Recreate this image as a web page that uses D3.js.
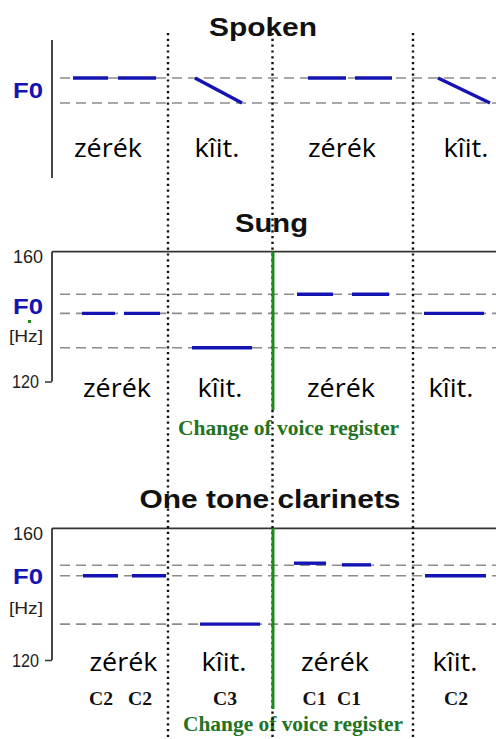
<!DOCTYPE html>
<html><head><meta charset="utf-8">
<script src="https://cdn.jsdelivr.net/npm/d3@7"></script>
<style>body{margin:0;background:#fff}svg{display:block}</style>
</head><body><svg id="c" width="496" height="739"></svg>
<script>
// ---------- DATA ----------
const panelTitles = ["Spoken", "Sung", "One tone clarinets"];
const words = ["zérék", "kîit.", "zérék", "kîit."];
const yTickValues = [120, 160];
// word boundaries (time units) and voice-register change
const dividers = [1.16, 2.205, 3.61];
const registerChange = 2.21;
// spoken: relative levels (1 = high, 0 = low)
const spokenGuides = [1, 0];
const spokenSegments = [
  [0.21, 0.56, 1, 1], [0.66, 1.04, 1, 1], [1.43, 1.90, 1, 0],
  [2.56, 2.94, 1, 1], [3.03, 3.40, 1, 1], [3.86, 4.38, 1, 0]
];
const spokenWordPos = [0.56, 1.65, 2.90, 4.14];
// sung: F0 in Hz
const sungGuides = [146.9, 141.0, 130.4];
const sungSegments = [
  [0.30, 0.63, 141.0, 141.0], [0.72, 1.08, 141.0, 141.0], [1.40, 2.00, 130.4, 130.4],
  [2.45, 2.81, 146.9, 146.9], [3.00, 3.37, 146.9, 146.9], [3.72, 4.32, 141.0, 141.0]
];
const sungWordPos = [0.65, 1.68, 2.89, 3.99];
// one tone clarinets: F0 in Hz
const clarGuides = [148.8, 145.6, 130.9];
const clarSegments = [
  [0.31, 0.66, 145.6, 145.6], [0.80, 1.14, 145.6, 145.6], [1.48, 2.08, 130.9, 130.9],
  [2.42, 2.74, 149.4, 149.4], [2.90, 3.19, 148.9, 148.9], [3.73, 4.34, 145.6, 145.6]
];
const clarWordPos = [0.715, 1.72, 2.83, 4.03];
const clarNotes = ["C2", "C2", "C3", "C1", "C1", "C2"];
const clarNotePos = [0.49, 0.88, 1.73, 2.625, 2.97, 4.04];
const registerLabel = "Change of voice register";

// ---------- DRAW ----------
const svg = d3.select("#c");
const x = d3.scaleLinear().domain([0, 4.44]).range([52, 496]);
const BLUE = "#1414b4", GREY = "#8c8c8c", GREEN = "#1d8a1d", GTEXT = "#237323";
const sans = "'Liberation Sans', Arial, sans-serif";
const wordFont = "'Open Sans', 'Noto Sans', sans-serif";
const serif = "'Liberation Serif', 'Times New Roman', serif";

function txt(g, s, px, py, o) {
  const t = g.append("text").attr("x", px).attr("y", py).text(s)
    .attr("text-anchor", o.anchor || "middle")
    .attr("font-family", o.family).attr("font-size", o.size)
    .attr("font-weight", o.weight || "normal").attr("fill", o.fill || "#111");
  if (o.len) t.attr("textLength", o.len).attr("lengthAdjust", "spacingAndGlyphs");
  if (o.mid) t.attr("dominant-baseline", "central");
  return t;
}

function drawGuides(g, y, guides) {
  g.selectAll(null).data(guides).join("line")
    .attr("x1", 60).attr("x2", 496)
    .attr("y1", d => y(d)).attr("y2", d => y(d))
    .attr("stroke", GREY).attr("stroke-width", 1.6).attr("stroke-dasharray", "10,6");
}
function drawSegments(g, y, segs, w) {
  g.selectAll(null).data(segs).join("line")
    .attr("x1", d => x(d[0])).attr("x2", d => x(d[1]))
    .attr("y1", d => y(d[2])).attr("y2", d => y(d[3]))
    .attr("stroke", BLUE).attr("stroke-width", w).attr("stroke-linecap", "butt");
}
function drawWords(g, pos, base) {
  words.forEach((wd, i) => txt(g, wd, x(pos[i]), base,
    {family: wordFont, size: 25, weight: 500, fill: "#000", len: i % 2 === 0 ? 68 : 45}));
}
function drawHzAxis(g, y, top, bottom) {
  g.append("line").attr("x1", 52).attr("x2", 496).attr("y1", top).attr("y2", top)
    .attr("stroke", "#333").attr("stroke-width", 1.8);
  g.append("line").attr("x1", 52).attr("x2", 52).attr("y1", top).attr("y2", bottom)
    .attr("stroke", "#333").attr("stroke-width", 1.8);
  const ax = g.append("g").attr("transform", "translate(52,0)")
    .call(d3.axisLeft(y).tickValues(yTickValues).tickSize(7).tickSizeOuter(0).tickFormat(d3.format("d")));
  ax.select(".domain").remove();
  ax.selectAll(".tick line").attr("stroke", "#333").attr("stroke-width", 1.5)
    .filter(d => d === 160).remove();
  ax.selectAll(".tick text").attr("font-family", sans).attr("font-size", 18).attr("fill", "#222")
    .attr("textLength", d => d === 160 ? 30 : 27).attr("lengthAdjust", "spacingAndGlyphs")
    .attr("x", d => d === 160 ? -9 : -13).attr("dy", d => d === 160 ? "0.6em" : "0.34em");
}

// Panel 1 : Spoken
const g1 = svg.append("g");
txt(g1, panelTitles[0], 263, 36, {family: sans, size: 25, weight: "bold", len: 108});
g1.append("line").attr("x1", 52).attr("x2", 52).attr("y1", 40).attr("y2", 178)
  .attr("stroke", "#333").attr("stroke-width", 1.8);
const y1 = d3.scaleLinear().domain([0, 1]).range([103, 78]);
txt(g1, "F0", 28, 90, {family: sans, size: 22, weight: "bold", fill: BLUE, len: 30, mid: true});
drawGuides(g1, y1, spokenGuides);
drawSegments(g1, y1, spokenSegments, 3.6);
drawWords(g1, spokenWordPos, 157);

// Panel 2 : Sung
const g2 = svg.append("g");
txt(g2, panelTitles[1], 271.5, 232, {family: sans, size: 25, weight: "bold", len: 73});
const y2 = d3.scaleLinear().domain([120, 160]).range([381.5, 251.7]);
drawHzAxis(g2, y2, 251.7, 381.5);
txt(g2, "F0", 28, 306.7, {family: sans, size: 22, weight: "bold", fill: BLUE, len: 30, mid: true});
g2.append("rect").attr("x", 28).attr("y", 320).attr("width", 3).attr("height", 3).attr("fill", GREEN);
txt(g2, "[Hz]", 26, 336.7, {family: sans, size: 17, fill: "#222", len: 34, mid: true});
drawGuides(g2, y2, sungGuides);
drawSegments(g2, y2, sungSegments, 3.4);
drawWords(g2, sungWordPos, 396.5);
txt(g2, registerLabel, 288.5, 435, {family: serif, size: 21, weight: "bold", fill: GTEXT, len: 221});

// Panel 3 : One tone clarinets
const g3 = svg.append("g");
txt(g3, panelTitles[2], 270, 508, {family: sans, size: 25, weight: "bold", len: 261});
const y3 = d3.scaleLinear().domain([120, 160]).range([660, 528.3]);
drawHzAxis(g3, y3, 528.3, 660);
txt(g3, "F0", 28, 576.7, {family: sans, size: 22, weight: "bold", fill: BLUE, len: 30, mid: true});
txt(g3, "[Hz]", 26, 608, {family: sans, size: 17, fill: "#222", len: 34, mid: true});
drawGuides(g3, y3, clarGuides);
drawSegments(g3, y3, clarSegments, 3.4);
drawWords(g3, clarWordPos, 671);
clarNotes.forEach((n, i) => txt(g3, n, x(clarNotePos[i]), 705,
  {family: serif, size: 19, weight: "bold", fill: "#111", len: 24}));
txt(g3, registerLabel, 293, 731, {family: serif, size: 21, weight: "bold", fill: GTEXT, len: 220});

// dotted word separators across the whole figure
svg.append("g").selectAll("line").data(dividers).join("line")
  .attr("x1", d => x(d)).attr("x2", d => x(d)).attr("y1", 33).attr("y2", 739)
  .attr("stroke", "#111").attr("stroke-width", 2.4).attr("stroke-dasharray", "2.2,3.6");

// green register-change lines
[[y2, 251.7, 410], [y3, 528.3, 709]].forEach(([ys, t, b]) => {
  svg.append("line").attr("x1", x(registerChange)).attr("x2", x(registerChange))
    .attr("y1", t).attr("y2", b).attr("stroke", GREEN).attr("stroke-width", 3);
});
</script></body></html>
